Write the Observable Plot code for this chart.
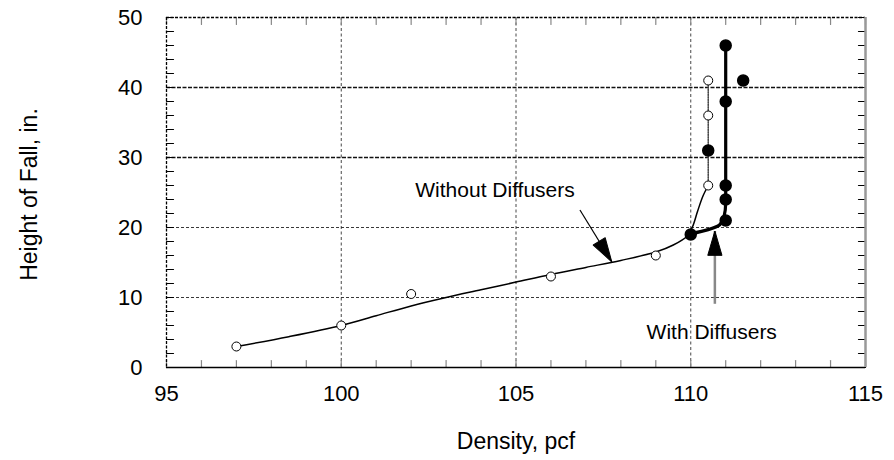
<!DOCTYPE html>
<html><head><meta charset="utf-8">
<script src="https://cdn.jsdelivr.net/npm/d3@7"></script>
<script src="https://cdn.jsdelivr.net/npm/@observablehq/plot@0.6"></script>
<style>body{margin:0;background:#fff} #chart{width:894px;height:460px}</style>
</head><body><div id="chart"></div>
<script>
// Observed points
const withoutX = [97, 100, 102, 106, 109, 110.5, 110.5, 110.5];
const withoutY = [3, 6, 10.5, 13, 16, 26, 36, 41];
const withX = [110, 110.5, 111, 111, 111, 111, 111, 111.5];
const withY = [19, 31, 21, 24, 26, 38, 46, 41];
// Fitted curves
const fitWithoutX = [97, 98.5, 100, 101, 102, 103, 104, 105, 106, 107, 108, 109, 109.5, 109.9, 110.05, 110.2, 110.35, 110.5];
const fitWithoutY = [3, 4.4, 6, 7.4, 8.8, 10, 11.1, 12.2, 13.3, 14.3, 15.3, 16.5, 17.5, 18.8, 20.1, 22.4, 24.5, 26];
const verticalWithoutX = [110.5, 110.5];
const verticalWithoutY = [26, 41];
const fitWithX = [110, 110.5, 110.83, 110.95, 111, 111];
const fitWithY = [19.1, 19.7, 20.4, 21.5, 23.5, 46];
// Axes
const xTicks = [95, 100, 105, 110, 115];
const yTicks = [0, 10, 20, 30, 40, 50];
const xMinor = d3.range(95, 116, 1);
const yMinor = d3.range(0, 51, 2);
// Annotations
const labelText = ["Without Diffusers", "With Diffusers"];
const labelX = [104.4, 110.6];
const labelY = [25.3, 5.0];
const arrowX1 = [106.83, 110.69];
const arrowY1 = [22.5, 9.1];
const arrowX2 = [107.74, 110.69];
const arrowY2 = [15.1, 19.5];

const W = 894, H = 460, ML = 166, MR = 29, MT = 17, MB = 93;
const kx = (W - ML - MR) / (xTicks[xTicks.length-1] - xTicks[0]);
const ky = (H - MT - MB) / (yTicks[yTicks.length-1] - yTicks[0]);

const pts = (xs, ys) => xs.map((x, i) => ({x, y: ys[i]}));
const openPts = pts(withoutX, withoutY);
const filledPts = pts(withX, withY);
const fitWithout = pts(fitWithoutX, fitWithoutY);
const vertWithout = pts(verticalWithoutX, verticalWithoutY);
const fitWith = pts(fitWithX, fitWithY);
const arrows = arrowX1.map((x1, i) => ({
  x1, y1: arrowY1[i], x2: arrowX2[i], y2: arrowY2[i],
  rot: Math.atan2((arrowX2[i] - x1) * kx, (arrowY2[i] - arrowY1[i]) * ky) * 180 / Math.PI
}));
const labels = labelText.map((t, i) => ({t, x: labelX[i], y: labelY[i]}));

const tickShape = {draw(ctx, l) { ctx.moveTo(0, 0); ctx.lineTo(0, -l); }};
const headShape = {draw(ctx, l, r) { ctx.moveTo(-r, 0); ctx.lineTo(0, -l); ctx.lineTo(r, 0); ctx.closePath(); }};
const font = "'Liberation Sans', Arial, Helvetica, sans-serif";
const xMin = xTicks[0], xMax = xTicks[xTicks.length-1], yMin = yTicks[0], yMax = yTicks[yTicks.length-1];

const chart = Plot.plot({
  width: W, height: H,
  marginLeft: ML, marginRight: MR, marginTop: MT, marginBottom: MB,
  style: {fontFamily: font, fontSize: "22px", color: "black", background: "white"},
  x: {domain: [xMin, xMax], ticks: xTicks},
  y: {domain: [yMin, yMax], ticks: yTicks},
  marks: [
    // grid
    Plot.ruleX(xTicks.slice(1, -1), {stroke: "#333", strokeWidth: 0.9, strokeDasharray: "3,2.5"}),
    Plot.ruleY(yTicks.filter(v => v > 0 && v < 30), {stroke: "#222", strokeWidth: 0.9, strokeDasharray: "3,2"}),
    Plot.ruleY(yTicks.filter(v => v >= 30 && v < yMax), {stroke: "#111", strokeWidth: 1.6, strokeDasharray: "4,1.5"}),
    // minor ticks
    Plot.vector(xMinor, {x: d => d, y: yMin, length: 7, rotate: 0, anchor: "start", shape: tickShape, stroke: "#888", strokeWidth: 1.2}),
    Plot.vector(xMinor, {x: d => d, y: yMax, length: 7, rotate: 180, anchor: "start", shape: tickShape, stroke: "#888", strokeWidth: 1.2}),
    Plot.vector(yMinor, {x: xMin, y: d => d, length: 7, rotate: 90, anchor: "start", shape: tickShape, stroke: "black", strokeWidth: 1.2}),
    Plot.vector(yMinor, {x: xMax, y: d => d, length: 7, rotate: -90, anchor: "start", shape: tickShape, stroke: "black", strokeWidth: 1.2}),
    // frame
    Plot.ruleY([yMin], {stroke: "black", strokeWidth: 1.5}),
    Plot.ruleY([yMax], {stroke: "black", strokeWidth: 1.5, strokeDasharray: "3,1.5"}),
    Plot.ruleX([xMin], {stroke: "black", strokeWidth: 1.3, strokeDasharray: "3,1.5"}),
    Plot.ruleX([xMax], {stroke: "#999", strokeWidth: 2.5}),
    // axes labels
    Plot.axisX(xTicks, {anchor: "bottom", tickSize: 0, tickPadding: 18, fontSize: 22}),
    Plot.axisY(yTicks, {anchor: "left", tickSize: 0, tickPadding: 24, fontSize: 22}),
    Plot.text(["Density, pcf"], {frameAnchor: "bottom", dy: 74, fontSize: 23, lineAnchor: "middle"}),
    Plot.text(["Height of Fall, in."], {frameAnchor: "left", dx: -137, dy: 2, rotate: -90, fontSize: 23, lineAnchor: "middle", textAnchor: "middle"}),
    // curves
    Plot.line(fitWithout, {x: "x", y: "y", curve: "catmull-rom", stroke: "black", strokeWidth: 1.5}),
    Plot.line(vertWithout, {x: "x", y: "y", stroke: "#444", strokeWidth: 1.5, strokeDasharray: "1.5,1"}),
    Plot.line(fitWith, {x: "x", y: "y", curve: "monotone-y", stroke: "black", strokeWidth: 3.2}),
    // points
    Plot.dot(openPts, {x: "x", y: "y", r: 4.5, fill: "white", stroke: "black", strokeWidth: 1}),
    Plot.dot(filledPts, {x: "x", y: "y", r: 5.5, fill: "black", stroke: "black"}),
    // arrows
    Plot.link(arrows.slice(0, 1), {x1: "x1", y1: "y1", x2: "x2", y2: "y2", stroke: "black", strokeWidth: 1.2}),
    Plot.link(arrows.slice(1), {x1: "x1", y1: "y1", x2: "x2", y2: "y2", stroke: "#888", strokeWidth: 2.5}),
    Plot.vector(arrows, {x: "x2", y: "y2", rotate: "rot", length: 24, r: 7, anchor: "end", shape: headShape, fill: "black", stroke: "black", strokeWidth: 1}),
    Plot.text(labels, {x: "x", y: "y", text: "t", fontSize: 21, fill: "black"})
  ]
});
document.getElementById("chart").appendChild(chart);
</script>
</body></html>
